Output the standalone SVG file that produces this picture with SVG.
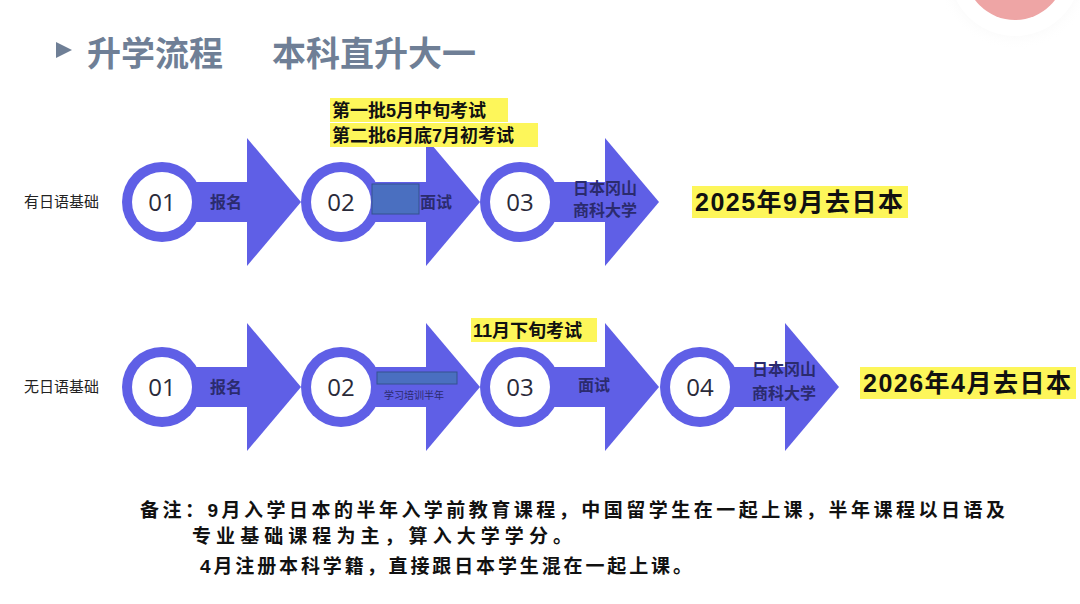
<svg xmlns="http://www.w3.org/2000/svg" xmlns:xlink="http://www.w3.org/1999/xlink" width="1080" height="604" viewBox="0 0 1080 604">
<style>
.ar{fill:#5f5fe6}
.num{font-family:"Open Sans","Liberation Sans",sans-serif;font-size:24px;fill:#2a2a3a;text-anchor:middle}
.lb{font-family:"Liberation Sans","Noto Sans CJK SC",sans-serif;font-size:16px;fill:#2b2b6e;font-weight:bold}
.side{font-family:"Liberation Sans","Noto Sans CJK SC",sans-serif;font-size:15px;fill:#222}
.hl{fill:#fdf65a}
.ht{font-family:"Liberation Sans","Noto Sans CJK SC",sans-serif;font-size:18px;font-weight:bold;fill:#111}
.big{font-family:"Liberation Sans","Noto Sans CJK SC",sans-serif;font-size:25px;font-weight:bold;fill:#111}
.note{font-family:"Liberation Sans","Noto Sans CJK SC",sans-serif;font-size:19px;font-weight:bold;fill:#111}
.tt{font-family:"Liberation Sans","Noto Sans CJK SC",sans-serif;font-size:34px;font-weight:bold;fill:#6f7f96}
</style>
<defs>
<g id="arr">
<circle class="ar" r="40"/>
<rect class="ar" x="0" y="-20" width="88" height="40"/>
<polygon class="ar" points="85,-64 139,0 85,64"/>
<circle r="30" fill="#fff"/>
</g>
<radialGradient id="sh"><stop offset="0.6" stop-color="#eee"/><stop offset="1" stop-color="#fff" stop-opacity="0"/></radialGradient>
</defs>
<rect width="1080" height="604" fill="#fff"/>
<g id="deco">
<circle cx="1015" cy="-30" r="80" fill="url(#sh)"/>
<circle cx="1015" cy="-30" r="66" fill="#fff"/>
<circle cx="1015" cy="-30" r="50" fill="#eea5a5"/>
</g>
<g id="title">
<polygon points="56,42 56,58 72,50" fill="#6f7f96"/>
<text class="tt" x="87" y="66">升学流程</text>
<text class="tt" x="272" y="66">本科直升大一</text>
</g>
<g id="row1">
<text class="side" x="24" y="207">有日语基础</text>
<g id="r1n1"><use xlink:href="#arr" x="162" y="202"/><text class="num" x="162" y="211">01</text><text class="lb" x="210" y="208">报名</text></g>
<g id="r1n2"><use xlink:href="#arr" x="341" y="202"/><text class="num" x="341" y="211">02</text><rect x="372" y="184" width="47" height="30" fill="#4a6fc0" stroke="#35528f"/><text class="lb" x="420" y="208">面试</text></g>
<g id="r1n3"><use xlink:href="#arr" x="520" y="202"/><text class="num" x="520" y="211">03</text><text class="lb" x="573" y="194">日本冈山</text><text class="lb" x="573" y="216">商科大学</text></g>
<g id="r1hl1"><rect class="hl" x="330" y="98" width="178" height="24"/><rect class="hl" x="330" y="123" width="208" height="24"/><text class="ht" x="332" y="117">第一批5月中旬考试</text><text class="ht" x="332" y="142">第二批6月底7月初考试</text></g>
<g id="r1dest"><rect class="hl" x="692" y="186" width="216" height="32"/><text class="big" x="695" y="211" textLength="208" lengthAdjust="spacing">2025年9月去日本</text></g>
</g>
<g id="row2">
<text class="side" x="24" y="392">无日语基础</text>
<g id="r2n1"><use xlink:href="#arr" x="162" y="387"/><text class="num" x="162" y="396">01</text><text class="lb" x="210" y="393">报名</text></g>
<g id="r2n2"><use xlink:href="#arr" x="341" y="387"/><text class="num" x="341" y="396">02</text><rect x="377" y="372" width="80" height="12" fill="#4a6fc0" stroke="#35528f"/><text x="384" y="399" font-family="Liberation Sans,Noto Sans CJK SC,sans-serif" font-size="10" fill="#2b2b6e">学习培训半年</text></g>
<g id="r2n3"><use xlink:href="#arr" x="520" y="387"/><text class="num" x="520" y="396">03</text><text class="lb" x="578" y="391">面试</text></g>
<g id="r2n4"><use xlink:href="#arr" x="700" y="387"/><text class="num" x="700" y="396">04</text><text class="lb" x="752" y="375">日本冈山</text><text class="lb" x="752" y="399">商科大学</text></g>
<g id="r2hl"><rect class="hl" x="471" y="318" width="126" height="24"/><text class="ht" x="473" y="337">11月下旬考试</text></g>
<g id="r2dest"><rect class="hl" x="860" y="367" width="216" height="32"/><text class="big" x="863" y="392" textLength="208" lengthAdjust="spacing">2026年4月去日本</text></g>
</g>
<g id="notes">
<text class="note" x="140" y="517" textLength="865" lengthAdjust="spacing">备注：9月入学日本的半年入学前教育课程，中国留学生在一起上课，半年课程以日语及</text>
<text class="note" x="192" y="543" textLength="380" lengthAdjust="spacing">专业基础课程为主，算入大学学分。</text>
<text class="note" x="200" y="573" textLength="492" lengthAdjust="spacing">4月注册本科学籍，直接跟日本学生混在一起上课。</text>
</g>
</svg>
